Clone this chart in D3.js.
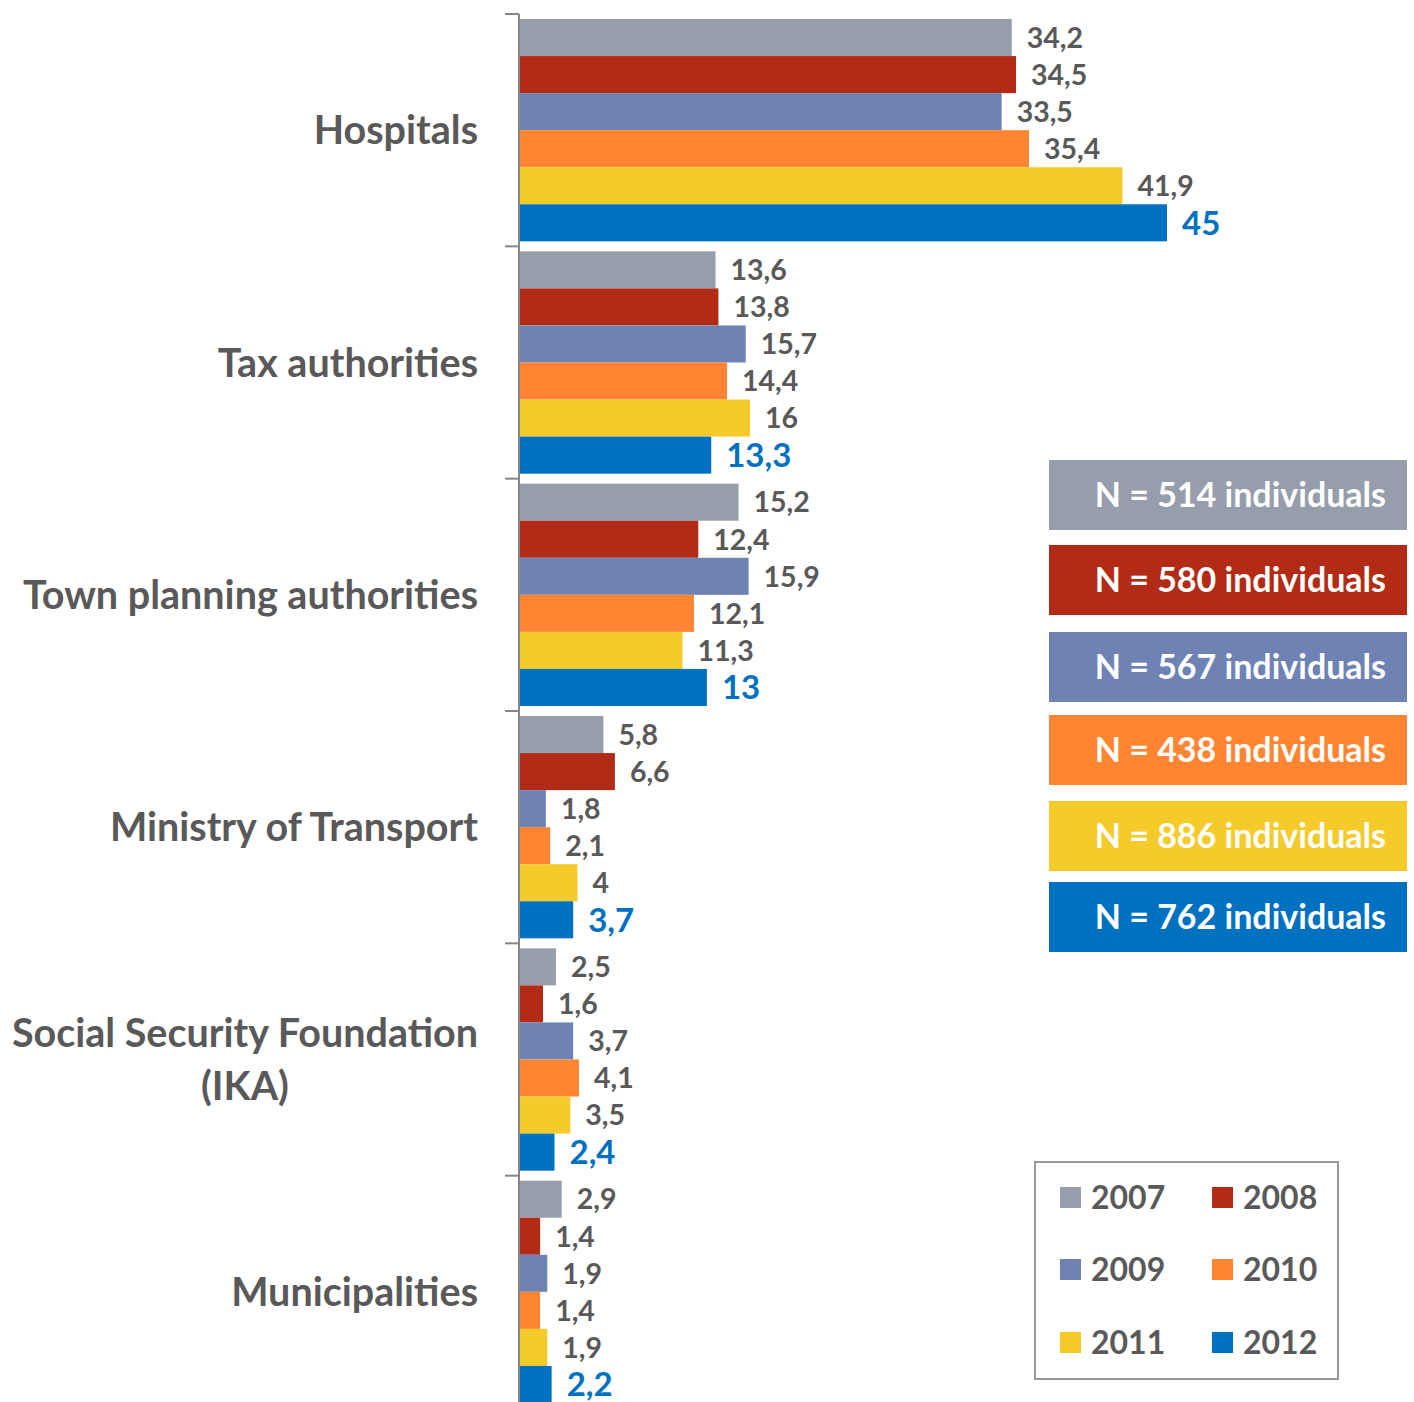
<!DOCTYPE html>
<meta charset="utf-8">
<style>
body { margin: 0; background: #fff; }
svg { display: block; font-family: Lato, "Open Sans", sans-serif; font-weight: bold; }
</style>
<body>
<svg width="1414" height="1402"></svg>
<script src="https://d3js.org/d3.v7.min.js"></script>
<script>
const categories = ["Hospitals", "Tax authorities", "Town planning authorities",
  "Ministry of Transport", "Social Security Foundation (IKA)", "Municipalities"];
const years = ["2007", "2008", "2009", "2010", "2011", "2012"];
const v2007 = [34.2, 13.6, 15.2, 5.8, 2.5, 2.9];
const v2008 = [34.5, 13.8, 12.4, 6.6, 1.6, 1.4];
const v2009 = [33.5, 15.7, 15.9, 1.8, 3.7, 1.9];
const v2010 = [35.4, 14.4, 12.1, 2.1, 4.1, 1.4];
const v2011 = [41.9, 16, 11.3, 4, 3.5, 1.9];
const v2012 = [45, 13.3, 13, 3.7, 2.4, 2.2];
const sampleSizes = [514, 580, 567, 438, 886, 762];
const colors = ["#969EAB", "#B22B17", "#6E83B4", "#FF8533", "#F4CB2B", "#0070C0"];

const series = [v2007, v2008, v2009, v2010, v2011, v2012];
const svg = d3.select("svg");
const grey = "#595959";

const y0 = d3.scaleBand().domain(categories).range([14, 1408]);
const y1 = d3.scaleBand().domain(years).range([0, y0.bandwidth()]).paddingOuter(0.135);
const x = d3.scaleLinear().domain([0, 45]).range([519, 1166]);

// bars
const groups = svg.append("g").selectAll("g")
  .data(categories)
  .join("g")
  .attr("transform", d => `translate(0,${y0(d)})`);

groups.selectAll("rect")
  .data((c, i) => years.map((yr, j) => ({yr, j, v: series[j][i]})))
  .join("rect")
  .attr("x", x(0) + 1)
  .attr("y", d => y1(d.yr))
  .attr("height", y1.bandwidth())
  .attr("width", d => x(d.v) - x(0))
  .attr("fill", d => colors[d.j]);

groups.selectAll("text")
  .data((c, i) => years.map((yr, j) => ({yr, j, v: series[j][i]})))
  .join("text")
  .attr("x", d => x(d.v) + 16)
  .attr("y", d => y1(d.yr) + y1.bandwidth() / 2)
  .attr("dy", "0.36em")
  .attr("font-size", d => d.j === 5 ? 33 : 28.5)
  .attr("fill", d => d.j === 5 ? "#0070C0" : grey)
  .text(d => String(d.v).replace(".", ","));

// axis
svg.append("line")
  .attr("x1", 519).attr("x2", 519)
  .attr("y1", 14).attr("y2", 1408)
  .attr("stroke", "#868686").attr("stroke-width", 2);
svg.append("g").selectAll("line")
  .data(categories)
  .join("line")
  .attr("x1", 505).attr("x2", 519)
  .attr("y1", d => y0(d)).attr("y2", d => y0(d))
  .attr("stroke", "#868686").attr("stroke-width", 2);

// category labels
const catLines = {"Social Security Foundation (IKA)": ["Social Security Foundation", "(IKA)"]};
categories.forEach(c => {
  const lines = catLines[c] || [c];
  const cy = y0(c) + y0.bandwidth() / 2;
  const t = svg.append("text")
    .attr("font-size", 39.5)
    .attr("fill", grey);
  if (lines.length === 1) {
    t.attr("x", 478).attr("y", cy).attr("dy", "0.36em")
      .attr("text-anchor", "end").text(c);
  } else {
    t.attr("text-anchor", "middle");
    lines.forEach((l, k) => {
      t.append("tspan")
        .attr("x", 245)
        .attr("y", cy + (k - 0.5) * 53)
        .attr("dy", "0.36em")
        .text(l);
    });
  }
});

// N boxes
const boxTops = [460, 545, 632, 715, 801, 882];
sampleSizes.forEach((n, i) => {
  svg.append("rect")
    .attr("x", 1049).attr("y", boxTops[i])
    .attr("width", 358).attr("height", 70)
    .attr("fill", colors[i]);
  svg.append("text")
    .attr("x", 1386).attr("y", boxTops[i] + 35)
    .attr("dy", "0.36em")
    .attr("text-anchor", "end")
    .attr("font-size", 34)
    .attr("fill", "#fff")
    .text(`N = ${n} individuals`);
});

// legend
svg.append("rect")
  .attr("x", 1035).attr("y", 1162)
  .attr("width", 303).attr("height", 217)
  .attr("fill", "#fff").attr("stroke", "#999").attr("stroke-width", 2);
years.forEach((yr, i) => {
  const lx = i % 2 === 0 ? 1060 : 1212;
  const ly = [1197, 1269, 1342][Math.floor(i / 2)];
  svg.append("rect")
    .attr("x", lx).attr("y", ly - 10)
    .attr("width", 21).attr("height", 21)
    .attr("fill", colors[i]);
  svg.append("text")
    .attr("x", lx + 31).attr("y", ly)
    .attr("dy", "0.36em")
    .attr("font-size", 32)
    .attr("fill", grey)
    .text(yr);
});
</script>
</body>
